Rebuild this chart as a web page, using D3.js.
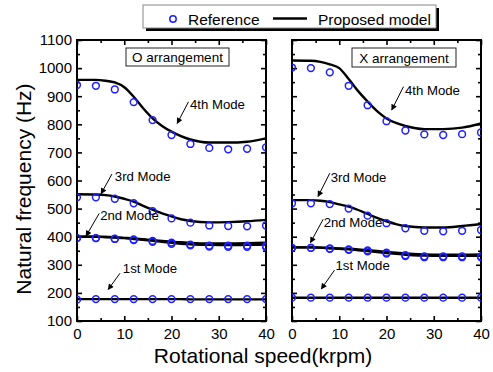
<!DOCTYPE html>
<html>
<head>
<meta charset="utf-8">
<script src="https://cdn.jsdelivr.net/npm/d3@7"></script>
<style>
  body { margin: 0; background: #fff; }
  svg { font-family: "Liberation Sans", Arial, sans-serif; }
</style>
</head>
<body>
<svg id="chart" width="493" height="372"></svg>
<script>
// measured speeds (krpm) for the reference points
const speeds = [0, 4, 8, 12, 16, 20, 24, 28, 32, 36, 40];
// speeds at which the model curves were read
const lineSpeeds = [0, 4, 6, 8, 10, 12, 14, 16, 18, 20, 22, 24, 28, 32, 36, 40];

const xTicks = [0, 10, 20, 30, 40];
const yTicks = [100, 200, 300, 400, 500, 600, 700, 800, 900, 1000, 1100];

// O arrangement - reference
const oRef4 = [940, 937, 924, 879, 815, 762, 730, 716, 711, 713, 718];
const oRef3 = [540, 540, 535, 519, 491, 465, 450, 440, 438, 437, 440];
const oRef2a = [395, 395, 393, 390, 385, 379, 372, 368, 368, 368, 367];
const oRef2b = [395, 395, 392, 388, 382, 375, 369, 365, 364, 364, 363];
const oRef1 = [176, 178, 178, 178, 178, 178, 178, 178, 178, 178, 178];
// O arrangement - proposed model
const oMod4 = [958, 958, 955, 949, 932, 898, 857, 821, 794, 774, 758, 746, 735, 735, 738, 750];
const oMod3 = [551, 550, 548, 543, 535, 525, 510, 496, 483, 472, 462, 456, 451, 452, 455, 460];
const oMod2a = [400, 400, 399, 398, 396, 394, 391, 388, 385, 382, 380, 378, 376, 376, 377, 379];
const oMod2b = [400, 400, 399, 397, 395, 392, 389, 385, 382, 378, 375, 373, 371, 370, 371, 372];
const oMod1 = [178, 178, 178, 178, 178, 178, 178, 178, 178, 178, 178, 177, 177, 177, 177, 177];

// X arrangement - reference
const xRef4 = [1002, 1000, 985, 937, 868, 811, 778, 764, 762, 765, 771];
const xRef3 = [519, 519, 516, 500, 475, 448, 430, 421, 419, 421, 424];
const xRef2a = [360, 360, 358, 355, 351, 343, 334, 330, 330, 330, 330];
const xRef2b = [360, 360, 357, 353, 348, 340, 331, 327, 327, 327, 327];
const xRef1 = [183, 183, 183, 183, 183, 183, 183, 183, 183, 183, 183];
// X arrangement - proposed model
const xMod4 = [1027, 1026, 1022, 1013, 1000, 961, 918, 881, 847, 821, 805, 794, 783, 783, 788, 803];
const xMod3 = [530, 530, 528, 523, 515, 507, 495, 481, 467, 455, 445, 438, 433, 433, 438, 445];
const xMod2a = [362, 362, 361, 360, 358, 357, 355, 352, 349, 346, 343, 340, 337, 336, 336, 337];
const xMod2b = [362, 362, 361, 359, 357, 355, 352, 349, 345, 342, 339, 336, 333, 332, 332, 332];
const xMod1 = [183, 183, 183, 183, 183, 183, 183, 183, 183, 183, 183, 183, 183, 183, 183, 183];

// mode labels: text anchor, arrow tail and arrow tip in data units
const oNotes = [
    {label: "4th Mode", t: [23.9, 856], a: [23.6, 880], b: [21.2, 803]},
    {label: "3rd Mode", t: [8.0, 600], a: [7.4, 623], b: [5.1, 553]},
    {label: "2nd Mode", t: [4.9, 458], a: [4.7, 483], b: [1.9, 402]},
    {label: "1st Mode", t: [9.7, 271], a: [9.1, 270], b: [6.6, 212]}
];
const xNotes = [
    {label: "4th Mode", t: [23.9, 904], a: [23.6, 934], b: [21.1, 851]},
    {label: "3rd Mode", t: [8.2, 595], a: [8.0, 626], b: [5.5, 543]},
    {label: "2nd Mode", t: [6.7, 433], a: [6.6, 462], b: [3.9, 379]},
    {label: "1st Mode", t: [9.2, 280], a: [9.0, 281], b: [6.2, 214]}
];

const panels = [
    {id: "o", title: "O arrangement", left: 77, right: 266, labels: true,
     refs: [oRef4, oRef3, oRef2a, oRef2b, oRef1], models: [oMod4, oMod3, oMod2a, oMod2b, oMod1], notes: oNotes,
     box: [126, 48, 103, 18]},
    {id: "x", title: "X arrangement", left: 292, right: 481, labels: false,
     refs: [xRef4, xRef3, xRef2a, xRef2b, xRef1], models: [xMod4, xMod3, xMod2a, xMod2b, xMod1], notes: xNotes,
     box: [352, 48, 104, 19]}
];

const plotTop = 40, plotBottom = 321;
const blue = "#1f1fff";

const svg = d3.select("#chart");
const defs = svg.append("defs");

defs.append("marker")
    .attr("id", "arrow")
    .attr("viewBox", "0 0 10 10")
    .attr("refX", 9)
    .attr("refY", 5)
    .attr("markerUnits", "userSpaceOnUse")
    .attr("markerWidth", 7)
    .attr("markerHeight", 6)
    .attr("orient", "auto")
    .append("path")
    .attr("d", "M0,0L10,5L0,10z")
    .attr("fill", "#000");

const scaleY = d3.scaleLinear().domain([100, 1100]).range([plotBottom, plotTop]);

panels.forEach(p => {
    const scaleX = d3.scaleLinear().domain([0, 40]).range([p.left, p.right]);
    const g = svg.append("g");

    defs.append("clipPath")
        .attr("id", "clip-" + p.id)
        .append("rect")
        .attr("x", p.left).attr("y", plotTop)
        .attr("width", p.right - p.left).attr("height", plotBottom - plotTop);

    const minorX = [5, 15, 25, 35];
    const minorY = d3.range(150, 1100, 100);
    const axes = [
        [d3.axisBottom(scaleX).tickValues(xTicks), `translate(0,${plotBottom})`, 5, "x"],
        [d3.axisTop(scaleX).tickValues(xTicks), `translate(0,${plotTop})`, 5, null],
        [d3.axisBottom(scaleX).tickValues(minorX), `translate(0,${plotBottom})`, 3, null],
        [d3.axisTop(scaleX).tickValues(minorX), `translate(0,${plotTop})`, 3, null],
        [d3.axisLeft(scaleY).tickValues(yTicks), `translate(${p.left},0)`, 5, p.labels ? "y" : null],
        [d3.axisRight(scaleY).tickValues(yTicks), `translate(${p.right},0)`, 5, null],
        [d3.axisLeft(scaleY).tickValues(minorY), `translate(${p.left},0)`, 3, null],
        [d3.axisRight(scaleY).tickValues(minorY), `translate(${p.right},0)`, 3, null]
    ];
    axes.forEach(([axis, tr, size, lab]) => {
        axis.tickSizeInner(-size).tickSizeOuter(0).tickPadding(lab === "y" ? 5 : 7)
            .tickFormat(lab ? d3.format("d") : "");
        const a = g.append("g")
            .attr("transform", tr)
            .call(axis);
        a.select(".domain").remove();
        a.selectAll("line").attr("stroke", "#000").attr("stroke-width", 1.6);
        a.selectAll("text").attr("fill", "#000").attr("font-size", 15);
    });

    g.append("rect")
        .attr("x", p.left).attr("y", plotTop)
        .attr("width", p.right - p.left).attr("height", plotBottom - plotTop)
        .attr("fill", "none")
        .attr("stroke", "#000")
        .attr("stroke-width", 2);

    const plot = g.append("g").attr("clip-path", `url(#clip-${p.id})`);

    const line = d3.line()
        .x((d, i) => scaleX(lineSpeeds[i]))
        .y(d => scaleY(d))
        .curve(d3.curveMonotoneX);

    plot.selectAll("path.model")
        .data(p.models)
        .join("path")
        .classed("model", true)
        .attr("d", line)
        .attr("fill", "none")
        .attr("stroke", "#000")
        .attr("stroke-width", 2.4);

    p.refs.forEach(series => {
        plot.append("g")
            .selectAll("circle")
            .data(series)
            .join("circle")
            .attr("cx", (d, i) => scaleX(speeds[i]))
            .attr("cy", d => scaleY(d))
            .attr("r", 3.4)
            .attr("fill", "none")
            .attr("stroke", blue)
            .attr("stroke-width", 1.5);
    });

    const notes = g.append("g");
    notes.selectAll("line")
        .data(p.notes)
        .join("line")
        .attr("x1", d => scaleX(d.a[0])).attr("y1", d => scaleY(d.a[1]))
        .attr("x2", d => scaleX(d.b[0])).attr("y2", d => scaleY(d.b[1]))
        .attr("stroke", "#000")
        .attr("stroke-width", 1)
        .attr("marker-end", "url(#arrow)");
    notes.selectAll("text")
        .data(p.notes)
        .join("text")
        .attr("x", d => scaleX(d.t[0])).attr("y", d => scaleY(d.t[1]))
        .attr("font-size", 13.2)
        .text(d => d.label);

    const [bx, by, bw, bh] = p.box;
    g.append("rect")
        .attr("x", bx).attr("y", by).attr("width", bw).attr("height", bh)
        .attr("fill", "#fff").attr("stroke", "#222").attr("stroke-width", 1);
    g.append("text")
        .attr("x", bx + bw / 2).attr("y", by + bh / 2 + 5)
        .attr("text-anchor", "middle")
        .attr("font-size", 13.5)
        .text(p.title);
});

// axis titles
svg.append("text")
    .attr("x", 263).attr("y", 363)
    .attr("text-anchor", "middle")
    .attr("font-size", 21)
    .text("Rotational speed(krpm)");

svg.append("text")
    .attr("transform", "translate(31,189) rotate(-90)")
    .attr("text-anchor", "middle")
    .attr("font-size", 21)
    .text("Natural frequency (Hz)");

// legend
const legend = svg.append("g");
legend.append("rect")
    .attr("x", 146).attr("y", 8).attr("width", 293).attr("height", 23)
    .attr("fill", "#000");
legend.append("rect")
    .attr("x", 143).attr("y", 5).attr("width", 293).attr("height", 23)
    .attr("fill", "#fff").attr("stroke", "#888").attr("stroke-width", 1);
legend.append("circle")
    .attr("cx", 173).attr("cy", 19).attr("r", 3.2)
    .attr("fill", "none").attr("stroke", blue).attr("stroke-width", 1.5);
legend.append("text")
    .attr("x", 188).attr("y", 24.5)
    .attr("font-size", 15.5)
    .text("Reference");
legend.append("line")
    .attr("x1", 273).attr("x2", 307).attr("y1", 18.5).attr("y2", 18.5)
    .attr("stroke", "#000").attr("stroke-width", 2.4);
legend.append("text")
    .attr("x", 318).attr("y", 24.5)
    .attr("font-size", 15.5)
    .text("Proposed model");
</script>
</body>
</html>
